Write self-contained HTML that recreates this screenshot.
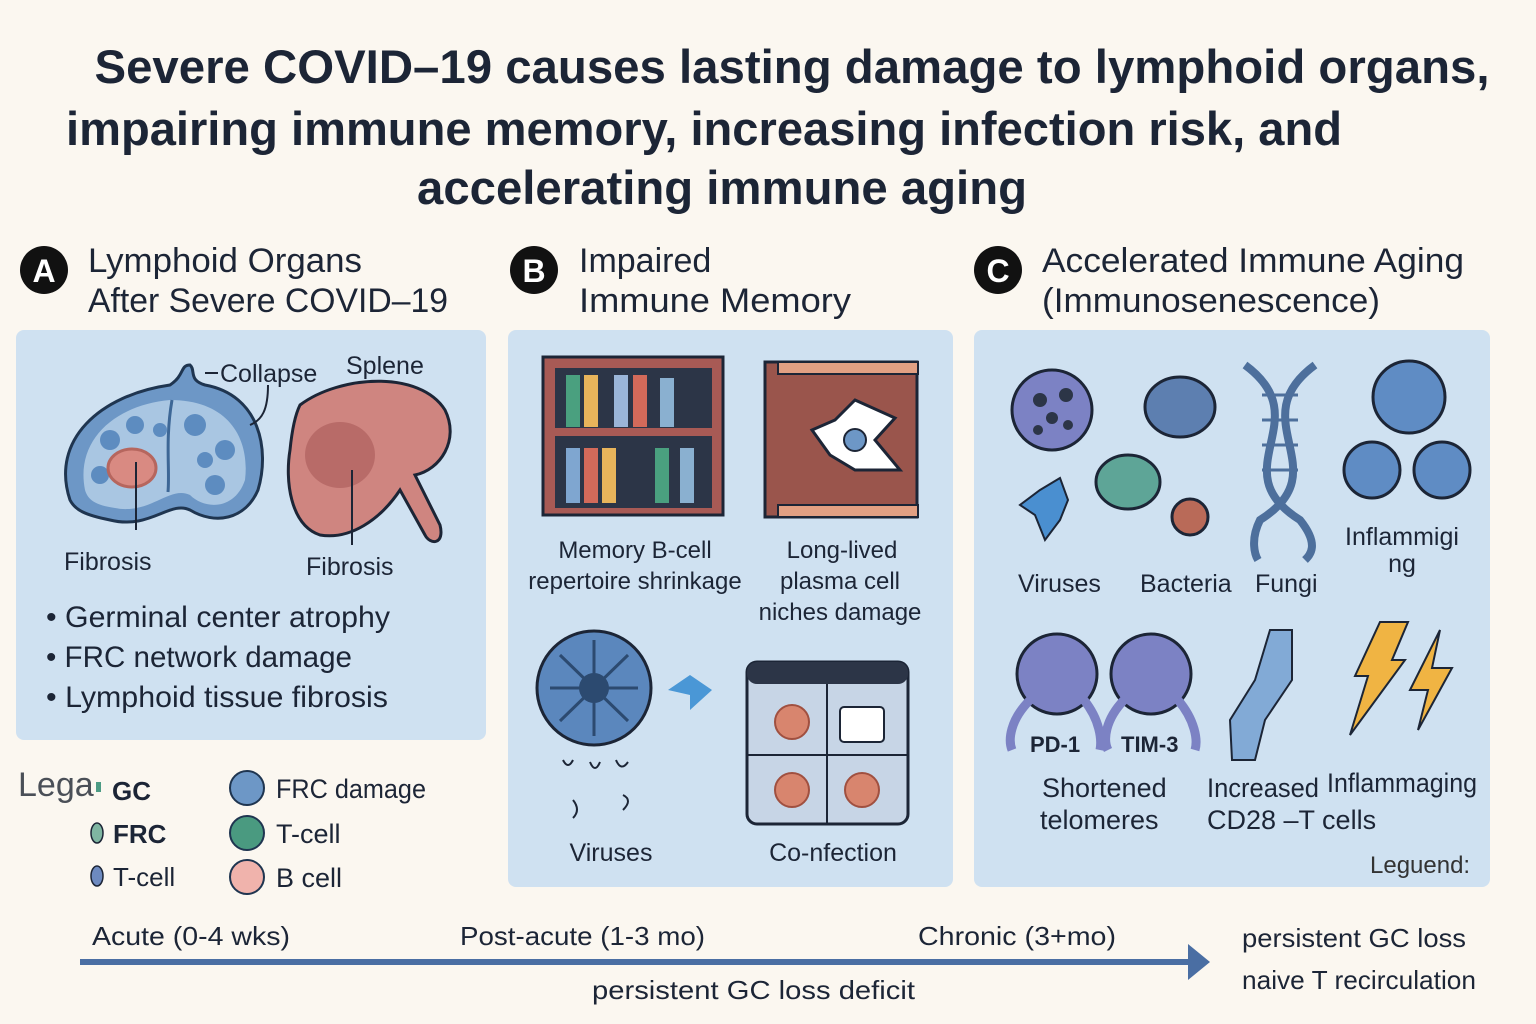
<!DOCTYPE html>
<html><head><meta charset="utf-8"><style>
html,body{margin:0;padding:0;background:#fbf7f0;}
svg{display:block;}
text{font-family:"Liberation Sans","DejaVu Sans",sans-serif;fill:#1c2536;}
</style></head><body>
<svg width="1536" height="1024" viewBox="0 0 1536 1024" xmlns="http://www.w3.org/2000/svg">
<rect width="1536" height="1024" fill="#fbf7f0"/>
<!-- Title -->
<g font-weight="bold" font-size="47" fill="#1f2a3c">
<text x="792" y="83" text-anchor="middle" textLength="1395" lengthAdjust="spacingAndGlyphs">Severe COVID–19 causes lasting damage to lymphoid organs,</text>
<text x="66" y="145" textLength="1276" lengthAdjust="spacingAndGlyphs">impairing immune memory, increasing infection risk, and</text>
<text x="722" y="204" text-anchor="middle" textLength="610" lengthAdjust="spacingAndGlyphs">accelerating immune aging</text>
</g>
<!-- Section headers -->
<circle cx="44" cy="270" r="24" fill="#111"/><text x="44" y="282" font-size="32" text-anchor="middle" style="fill:#fff" font-weight="bold">A</text>
<text x="88" y="272" font-size="34" textLength="274" lengthAdjust="spacingAndGlyphs">Lymphoid Organs</text>
<text x="88" y="312" font-size="34" textLength="360" lengthAdjust="spacingAndGlyphs">After Severe COVID–19</text>
<circle cx="534" cy="270" r="24" fill="#111"/><text x="534" y="282" font-size="32" text-anchor="middle" style="fill:#fff" font-weight="bold">B</text>
<text x="579" y="272" font-size="34">Impaired</text>
<text x="579" y="312" font-size="34" textLength="272" lengthAdjust="spacingAndGlyphs">Immune Memory</text>
<circle cx="998" cy="270" r="24" fill="#111"/><text x="998" y="282" font-size="32" text-anchor="middle" style="fill:#fff" font-weight="bold">C</text>
<text x="1042" y="272" font-size="34" textLength="422" lengthAdjust="spacingAndGlyphs">Accelerated Immune Aging</text>
<text x="1042" y="312" font-size="34" textLength="338" lengthAdjust="spacingAndGlyphs">(Immunosenescence)</text>
<!-- Panels -->
<rect x="16" y="330" width="470" height="410" rx="8" fill="#cfe1f1"/>
<rect x="508" y="330" width="445" height="557" rx="8" fill="#cfe1f1"/>
<rect x="974" y="330" width="516" height="557" rx="8" fill="#cfe1f1"/>
<!-- Panel A: lymph node -->
<path d="M70,500 C50,440 100,395 170,385 C185,375 180,365 190,365 C196,370 188,380 205,385 C260,395 270,450 258,490 C245,520 215,525 190,510 C170,500 150,530 110,520 C85,515 75,510 70,500Z" fill="#6d97c6" stroke="#1f3550" stroke-width="3"/>
<path d="M85,490 C75,440 115,405 170,400 C230,400 250,440 245,480 C235,510 205,510 190,495 C170,485 150,515 115,508 C95,505 88,500 85,490Z" fill="#a9c6e2"/>
<g fill="#5d8cc0"><circle cx="110" cy="440" r="10"/><circle cx="135" cy="425" r="9"/><circle cx="195" cy="425" r="11"/><circle cx="225" cy="450" r="10"/><circle cx="215" cy="485" r="10"/><circle cx="100" cy="475" r="9"/><circle cx="160" cy="430" r="7"/><circle cx="205" cy="460" r="8"/></g>
<path d="M172,400 C165,440 170,470 168,492" stroke="#3d6796" stroke-width="3" fill="none"/>
<ellipse cx="132" cy="468" rx="24" ry="19" fill="#d98a82" stroke="#b6665e" stroke-width="3"/>
<line x1="136" y1="462" x2="136" y2="530" stroke="#1c2536" stroke-width="2"/>
<path d="M205,373 L218,373 M268,385 C268,410 262,420 250,425" stroke="#1c2536" stroke-width="2" fill="none"/>
<text x="220" y="382" font-size="25">Collapse</text>
<text x="346" y="374" font-size="25">Splene</text>
<!-- spleen -->
<path d="M300,405 C340,375 420,370 445,410 C460,440 440,470 415,475 L440,525 C445,545 430,545 425,535 L400,490 C380,520 350,540 320,535 C290,525 285,480 290,450 C292,430 295,415 300,405Z" fill="#cf8580" stroke="#1c2536" stroke-width="3"/>
<ellipse cx="340" cy="455" rx="35" ry="33" fill="#b86b68"/>
<line x1="352" y1="470" x2="352" y2="545" stroke="#1c2536" stroke-width="2"/>
<text x="64" y="570" font-size="25">Fibrosis</text>
<text x="306" y="575" font-size="25">Fibrosis</text>
<g font-size="30"><text x="46" y="627" textLength="344" lengthAdjust="spacingAndGlyphs">• Germinal center atrophy</text><text x="46" y="667" textLength="306" lengthAdjust="spacingAndGlyphs">• FRC network damage</text><text x="46" y="707" textLength="342" lengthAdjust="spacingAndGlyphs">• Lymphoid tissue fibrosis</text></g>
<!-- Legend -->
<text x="18" y="796" font-size="34" style="fill:#4a4f57">Lega</text>
<rect x="96" y="782" width="5" height="10" fill="#4c9b84"/>
<text x="112" y="800" font-size="26" font-weight="bold">GC</text>
<ellipse cx="97" cy="833" rx="6" ry="10" fill="#7fb6a2" stroke="#1c2536" stroke-width="1.5"/>
<text x="113" y="843" font-size="26" font-weight="bold">FRC</text>
<ellipse cx="97" cy="876" rx="6" ry="10" fill="#6d8ac0" stroke="#1c2536" stroke-width="1.5"/>
<text x="113" y="886" font-size="26">T-cell</text>
<circle cx="247" cy="788" r="17" fill="#6d97c6" stroke="#1f3550" stroke-width="2"/>
<circle cx="247" cy="833" r="17" fill="#4a9a80" stroke="#1f3550" stroke-width="2"/>
<circle cx="247" cy="877" r="17" fill="#f0b3ac" stroke="#1f3550" stroke-width="2"/>
<text x="276" y="798" font-size="27" textLength="150" lengthAdjust="spacingAndGlyphs">FRC damage</text>
<text x="276" y="843" font-size="27">T-cell</text>
<text x="276" y="887" font-size="27">B cell</text>
<!-- Panel B -->
<rect x="543" y="357" width="180" height="158" fill="#a85a55" stroke="#1c2536" stroke-width="3"/>
<rect x="555" y="368" width="157" height="140" fill="#2c3547"/>
<rect x="555" y="428" width="157" height="8" fill="#a85a55"/>
<g><rect x="566" y="375" width="14" height="52" fill="#4aa07f"/><rect x="584" y="375" width="14" height="52" fill="#e8b45b"/><rect x="614" y="375" width="14" height="52" fill="#9bb5d8"/><rect x="633" y="375" width="14" height="52" fill="#d36a5a"/><rect x="660" y="378" width="14" height="49" fill="#8ab0d0"/>
<rect x="566" y="448" width="14" height="55" fill="#7fa6d0"/><rect x="584" y="448" width="14" height="55" fill="#d36a5a"/><rect x="602" y="448" width="14" height="55" fill="#e8b45b"/><rect x="655" y="448" width="14" height="55" fill="#4aa07f"/><rect x="680" y="448" width="14" height="55" fill="#8ab0d0"/></g>
<rect x="765" y="362" width="152" height="155" fill="#9a554c" stroke="#1c2536" stroke-width="3"/>
<rect x="778" y="362" width="140" height="12" fill="#e2a083" stroke="#1c2536" stroke-width="2"/>
<rect x="778" y="505" width="140" height="12" fill="#e2a083" stroke="#1c2536" stroke-width="2"/>
<polygon points="855,400 895,418 875,440 900,470 855,470 830,455 812,430 835,420" fill="#fff" stroke="#1c2536" stroke-width="3"/>
<circle cx="855" cy="440" r="11" fill="#6d97c6" stroke="#1c2536" stroke-width="2"/>
<g font-size="24" text-anchor="middle"><text x="635" y="558">Memory B-cell</text><text x="635" y="589">repertoire shrinkage</text>
<text x="842" y="558">Long-lived</text><text x="840" y="589">plasma cell</text><text x="840" y="620">niches damage</text></g>
<circle cx="594" cy="688" r="57" fill="#5b87bd" stroke="#1c2536" stroke-width="3"/>
<circle cx="594" cy="688" r="15" fill="#2c4a70"/>
<g stroke="#2c4a70" stroke-width="3"><line x1="594" y1="640" x2="594" y2="736"/><line x1="550" y1="688" x2="638" y2="688"/><line x1="560" y1="655" x2="628" y2="721"/><line x1="628" y1="655" x2="560" y2="721"/></g>
<path d="M563,760 q5,10 10,0 M590,762 q5,12 10,0 M616,760 q5,12 12,2 M573,800 q8,10 0,18 M623,795 q10,5 0,15" stroke="#1c2536" stroke-width="2" fill="none"/>
<path d="M668,690 L690,675 L712,690 L690,710 L690,695 Z" fill="#4a97d6"/>
<rect x="747" y="662" width="161" height="162" rx="10" fill="#c7d5e6" stroke="#1c2536" stroke-width="3"/>
<rect x="747" y="662" width="161" height="22" rx="10" fill="#2c3547"/>
<line x1="827" y1="684" x2="827" y2="824" stroke="#1c2536" stroke-width="2"/><line x1="747" y1="755" x2="908" y2="755" stroke="#1c2536" stroke-width="2"/>
<g fill="#d8856e" stroke="#a05040" stroke-width="2"><circle cx="792" cy="722" r="17"/><circle cx="792" cy="790" r="17"/><circle cx="862" cy="790" r="17"/></g>
<rect x="840" y="707" width="44" height="35" rx="4" fill="#fff" stroke="#1c2536" stroke-width="2"/>
<text x="611" y="861" font-size="25" text-anchor="middle">Viruses</text>
<text x="833" y="861" font-size="25" text-anchor="middle">Co-nfection</text>
<!-- Panel C -->
<circle cx="1052" cy="410" r="40" fill="#7c82c4" stroke="#1c2536" stroke-width="3"/>
<g fill="#2c3547"><circle cx="1040" cy="400" r="7"/><circle cx="1066" cy="395" r="7"/><circle cx="1052" cy="418" r="6"/><circle cx="1038" cy="430" r="5"/><circle cx="1068" cy="425" r="5"/></g>
<ellipse cx="1180" cy="407" rx="35" ry="30" fill="#5d7fb0" stroke="#1c2536" stroke-width="3"/>
<ellipse cx="1128" cy="482" rx="32" ry="27" fill="#5ea597" stroke="#1c2536" stroke-width="3"/>
<polygon points="1040,490 1060,478 1068,500 1060,520 1045,540 1035,515 1020,505" fill="#4a8fd0" stroke="#1c2536" stroke-width="2"/>
<circle cx="1190" cy="517" r="18" fill="#b96a58" stroke="#1c2536" stroke-width="3"/>
<path d="M1245,365 C1320,420 1220,470 1300,520 C1320,545 1310,555 1305,560 M1315,365 C1240,420 1340,470 1260,520 C1250,540 1255,555 1258,560" stroke="#4d6f9c" stroke-width="8" fill="none"/>
<g stroke="#4d6f9c" stroke-width="3"><line x1="1262" y1="395" x2="1298" y2="395"/><line x1="1262" y1="420" x2="1298" y2="420"/><line x1="1262" y1="445" x2="1298" y2="445"/><line x1="1262" y1="470" x2="1298" y2="470"/></g>
<circle cx="1409" cy="397" r="36" fill="#5f8cc4" stroke="#1c2536" stroke-width="3"/>
<circle cx="1372" cy="470" r="28" fill="#5f8cc4" stroke="#1c2536" stroke-width="3"/>
<circle cx="1442" cy="470" r="28" fill="#5f8cc4" stroke="#1c2536" stroke-width="3"/>
<g font-size="25"><text x="1018" y="592">Viruses</text><text x="1140" y="592">Bacteria</text><text x="1255" y="592">Fungi</text>
<text x="1402" y="545" text-anchor="middle">Inflammigi</text><text x="1402" y="572" text-anchor="middle">ng</text></g>
<g fill="#7c82c4" stroke="#1c2536" stroke-width="3"><circle cx="1057" cy="674" r="40"/><circle cx="1151" cy="674" r="40"/></g>
<path d="M1030,700 C1010,720 1008,740 1012,750 M1084,700 C1100,720 1102,740 1100,750 M1124,700 C1105,720 1103,740 1108,750 M1178,700 C1195,720 1198,740 1195,750" stroke="#7c82c4" stroke-width="9" fill="none"/>
<text x="1030" y="752" font-size="22" font-weight="bold">PD-1</text><text x="1121" y="752" font-size="22" font-weight="bold">TIM-3</text>
<path d="M1270,630 L1292,630 L1292,680 L1265,720 L1255,760 L1232,760 L1230,720 L1255,680 Z" fill="#82aad6" stroke="#1c2536" stroke-width="2"/>
<polygon points="1380,622 1408,622 1392,660 1405,660 1350,735 1368,676 1355,676" fill="#f0b443" stroke="#1c2536" stroke-width="2"/>
<polygon points="1440,630 1432,668 1452,668 1418,730 1428,690 1410,690" fill="#f0b443" stroke="#1c2536" stroke-width="2"/>
<g font-size="27"><text x="1042" y="797">Shortened</text><text x="1040" y="829">telomeres</text><text x="1207" y="797" textLength="112" lengthAdjust="spacingAndGlyphs">Increased</text><text x="1207" y="829">CD28 –T cells</text><text x="1327" y="792" textLength="150" lengthAdjust="spacingAndGlyphs">Inflammaging</text></g>
<text x="1370" y="873" font-size="24" style="fill:#333">Leguend:</text>
<!-- Timeline -->
<g font-size="26"><text x="92" y="945" textLength="198" lengthAdjust="spacingAndGlyphs">Acute (0-4 wks)</text><text x="460" y="945" textLength="245" lengthAdjust="spacingAndGlyphs">Post-acute (1-3 mo)</text><text x="918" y="945" textLength="198" lengthAdjust="spacingAndGlyphs">Chronic (3+mo)</text>
<text x="1242" y="947" textLength="224" lengthAdjust="spacingAndGlyphs">persistent GC loss</text><text x="1242" y="989" textLength="234" lengthAdjust="spacingAndGlyphs">naive T recirculation</text><text x="592" y="999" textLength="323" lengthAdjust="spacingAndGlyphs">persistent GC loss  deficit</text></g>
<rect x="80" y="959" width="1110" height="6" fill="#4a6ea3"/>
<polygon points="1188,944 1210,962 1188,980" fill="#4a6ea3"/>
</svg>
</body></html>
